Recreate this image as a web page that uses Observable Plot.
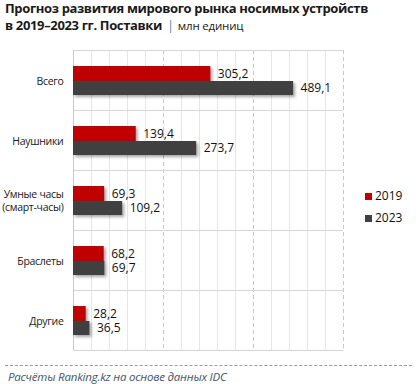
<!DOCTYPE html>
<html><head><meta charset="utf-8">
<script src="https://cdn.jsdelivr.net/npm/d3@7"></script>
<script src="https://cdn.jsdelivr.net/npm/@observablehq/plot@0.6"></script>
<style>
html,body{margin:0;padding:0;background:#fff;}
#wrap{position:relative;width:416px;height:384px;overflow:hidden;font-family:"Open Sans",sans-serif;}
#title{position:absolute;left:5px;top:0px;font-size:13px;font-weight:bold;color:#1a1a1a;line-height:17px;letter-spacing:-0.35px;}
#title .sep{color:#4f81bd;font-weight:normal;margin:0 4px 0 5px;}
#title .unit{font-weight:normal;font-size:11.5px;letter-spacing:-0.2px;}
#chart{position:absolute;left:0;top:0;}
#legend{position:absolute;left:365px;top:188px;font-size:12px;color:#111;}
#legend div{height:22px;line-height:16px;white-space:nowrap;}
#legend span.sw{display:inline-block;width:7px;height:7px;margin-right:3px;}
#foot{position:absolute;left:5px;top:365px;width:407px;border-top:1px dashed #9a9a9a;}
#cap{position:absolute;left:8px;top:369px;font-size:11.5px;font-style:italic;color:#44546a;letter-spacing:-0.2px;}
g.bars rect{filter:drop-shadow(2px 2px 1.5px rgba(0,0,0,0.35));}
g.cats text{letter-spacing:-0.3px;}
</style></head>
<body><div id="wrap">
<div id="title">Прогноз развития мирового рынка носимых устройств<br>в 2019–2023 гг. Поставки<span class="sep">|</span><span class="unit">млн единиц</span></div>
<div id="chart"></div>
<div id="legend"></div>
<div id="foot"></div>
<div id="cap">Расчёты Ranking.kz на основе данных IDC</div>
</div>
<script>
const categories = ["Всего", "Наушники", "Умные часы\n(смарт-часы)", "Браслеты", "Другие"];
const values2019 = [305.2, 139.4, 69.3, 68.2, 28.2];
const values2023 = [489.1, 273.7, 109.2, 69.7, 36.5];
const years = ["2019", "2023"];
const colors = ["#c00000", "#404040"];
const minorTicks = [40, 80, 120, 160, 240, 280, 320, 360, 440, 480, 520, 560];
const majorTicks = [200, 400, 600];

const d19 = categories.map((c, i) => ({cat: c, v: values2019[i]}));
const d23 = categories.map((c, i) => ({cat: c, v: values2023[i]}));
const fmt = v => v.toFixed(1).replace(".", ",");

const plot = Plot.plot({
  width: 416, height: 384,
  marginLeft: 73, marginRight: 73, marginTop: 50, marginBottom: 34,
  x: {domain: [0, 600], axis: null},
  y: {domain: categories, axis: null, padding: 0},
  style: {fontFamily: "'Open Sans', sans-serif", background: "transparent"},
  marks: [
    Plot.ruleX(minorTicks, {stroke: "#e6e6e6", strokeWidth: 1}),
    Plot.ruleX(majorTicks, {stroke: "#c8c8c8", strokeDasharray: "4,3"}),
    Plot.ruleY(categories, {dy: -30, x1: 0, x2: 600, stroke: "#d6d6d6"}),
    Plot.ruleY(categories.slice(-1), {dy: 30, x1: 0, x2: 600, stroke: "#d6d6d6"}),
    Plot.ruleX([0], {stroke: "#c8c8c8"}),
    Plot.barX(d19, {x: "v", y: "cat", fill: colors[0], insetTop: 16, insetBottom: 29, className: "bars"}),
    Plot.barX(d23, {x: "v", y: "cat", fill: colors[1], insetTop: 31, insetBottom: 15, className: "bars"}),
    Plot.text(d19, {x: "v", y: "cat", text: d => fmt(d.v), dy: -6.5, dx: 7, textAnchor: "start", fontSize: 12, fill: "#111"}),
    Plot.text(d23, {x: "v", y: "cat", text: d => fmt(d.v), dy: 8, dx: 7, textAnchor: "start", fontSize: 12, fill: "#111"}),
    Plot.text(categories, {x: 0, y: d => d, text: d => d, dx: -10, textAnchor: "end", fontSize: 10.5, fill: "#1a1a1a", lineHeight: 1.2, className: "cats"})
  ]
});
document.getElementById("chart").appendChild(plot);

const leg = document.getElementById("legend");
years.forEach((y, i) => {
  const row = document.createElement("div");
  row.innerHTML = `<span class="sw" style="background:${colors[i]}"></span>${y}`;
  leg.appendChild(row);
});
</script>
</body></html>
